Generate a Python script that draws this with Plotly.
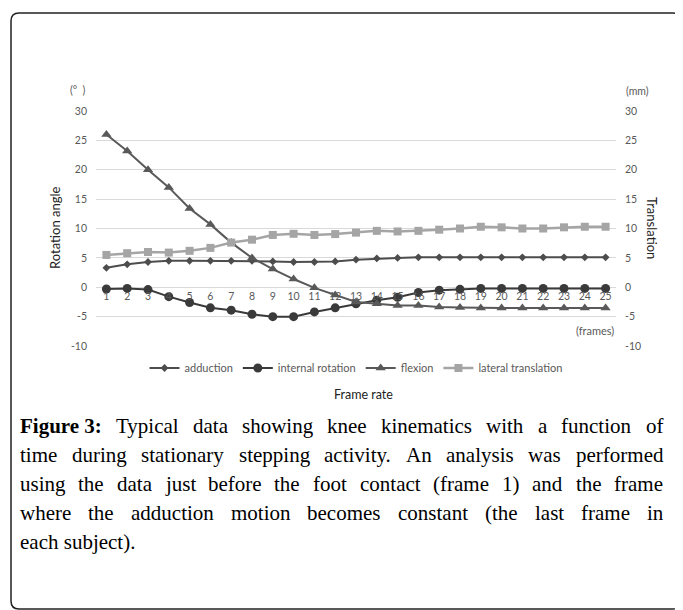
import glob
import plotly.graph_objects as go

# ---------------- data ----------------
frames = list(range(1, 26))
frame_labels = [str(f) for f in frames]

adduction = [3.3, 3.9, 4.3, 4.5, 4.5, 4.5, 4.5, 4.5, 4.4, 4.3, 4.3, 4.4, 4.7,
             4.9, 5.0, 5.1, 5.1, 5.1, 5.1, 5.1, 5.1, 5.1, 5.1, 5.1, 5.1]
internal_rotation = [-0.3, -0.2, -0.4, -1.6, -2.6, -3.5, -3.9, -4.6, -5.0, -5.0, -4.2, -3.5, -2.8,
                     -2.2, -1.7, -0.9, -0.5, -0.35, -0.2, -0.2, -0.2, -0.2, -0.2, -0.2, -0.2]
flexion = [26.0, 23.2, 20.0, 17.0, 13.4, 10.7, 7.6, 5.0, 3.1, 1.4, -0.1, -1.3, -2.5,
           -2.8, -3.1, -3.1, -3.35, -3.45, -3.55, -3.55, -3.55, -3.55, -3.55, -3.55, -3.55]
lateral_translation = [5.5, 5.8, 6.0, 5.9, 6.2, 6.7, 7.6, 8.1, 8.9, 9.1, 8.9, 9.05, 9.3,
                       9.6, 9.5, 9.6, 9.8, 10.0, 10.3, 10.2, 10.0, 10.0, 10.2, 10.3, 10.3]

y_ticks = [-10, -5, 0, 5, 10, 15, 20, 25, 30]
y_tick_labels = ["-10", "-5", "0", "5", "10", "15", "20", "25", "30"]

caption_lines = [
    "Figure 3: Typical data showing knee kinematics with a function of",
    "time during stationary stepping activity. An analysis was performed",
    "using the data just before the foot contact (frame 1) and the frame",
    "where the adduction motion becomes constant (the last frame in",
    "each subject).",
]

# ---------------- geometry (page pixels; page body has an 8px margin) ----------------
OFF = 8
W, H = 683 - OFF, 610 - OFF
PL, PR, PT, PB = 96, 616, 111, 346  # plot area in page pixels


def px(x):
    return (x - PL) / (PR - PL)


def py(y):
    return (PB - y) / (PB - PT)


FONT = "Lato"
GREY = "#595959"

fig = go.Figure()
fig.add_trace(go.Scatter(x=frames, y=adduction, name="adduction", mode="lines+markers",
                         line=dict(color="#4d4d4d", width=2),
                         marker=dict(symbol="diamond", size=6, color="#4d4d4d")))
fig.add_trace(go.Scatter(x=frames, y=internal_rotation, name="internal rotation", mode="lines+markers",
                         line=dict(color="#3a3a3a", width=2),
                         marker=dict(symbol="circle", size=9, color="#3a3a3a")))
fig.add_trace(go.Scatter(x=frames, y=flexion, name="flexion", mode="lines+markers",
                         line=dict(color="#595959", width=2),
                         marker=dict(symbol="triangle-up", size=9, color="#595959")))
fig.add_trace(go.Scatter(x=frames, y=lateral_translation, name="lateral translation", mode="lines+markers",
                         line=dict(color="#a5a5a5", width=2.5),
                         marker=dict(symbol="square", size=8, color="#a5a5a5"),
                         yaxis="y2"))

axis_font = dict(family=FONT, size=10.5, color=GREY)
fig.update_layout(
    width=W, height=H,
    margin=dict(l=PL - OFF, r=W - (PR - OFF), t=PT - OFF, b=H - (PB - OFF), pad=0),
    paper_bgcolor="white", plot_bgcolor="white",
    showlegend=True,
    legend=dict(orientation="h", x=0.5, xanchor="center", y=py(368), yanchor="middle",
                font=dict(family=FONT, size=11, color=GREY), itemwidth=30,
                bgcolor="rgba(0,0,0,0)", tracegroupgap=0),
    xaxis=dict(range=[0.5, 25.5], tickvals=frames, ticktext=frame_labels,
               showgrid=False, zeroline=False, showline=False, ticks="",
               anchor="free", position=py(288),
               tickfont=axis_font, ticklabelstandoff=0),
    yaxis=dict(range=[-10, 30], tickvals=y_ticks, ticktext=y_tick_labels,
               showgrid=True, gridcolor="#d9d9d9", gridwidth=1,
               zeroline=False, showline=False, ticks="", tickfont=axis_font, ticklabelstandoff=8),
    yaxis2=dict(range=[-10, 30], tickvals=y_ticks, ticktext=y_tick_labels,
                overlaying="y", side="right",
                showgrid=False, zeroline=False, showline=False, ticks="",
                tickfont=axis_font, ticklabelstandoff=8),
)

ann = []


def add_text(text, x, y, size, color="black", family=FONT, xanchor="center", yanchor="middle",
             angle=0):
    ann.append(dict(text=text, x=px(x), y=py(y), xref="paper", yref="paper", showarrow=False,
                    xanchor=xanchor, yanchor=yanchor, textangle=angle, borderpad=0, borderwidth=0,
                    font=dict(family=family, size=size, color=color)))


add_text("(°  )", 78, 90, 10.5, GREY)
add_text("(mm)", 637, 91, 10.5, GREY)
add_text("Rotation angle", 55, 228, 13, "#222222", angle=-90)
add_text("Translation", 652, 228, 13, "#222222", angle=90)
add_text("(frames)", 595, 330, 11, GREY)
add_text("Frame rate", 363, 394, 12.5, "#222222")

# ---------------- caption (justified) ----------------
CAP_SIZE = 21
CAP_X0, CAP_X1 = 20, 663
CAP_Y = [426, 455, 484, 513, 542]
SERIF = "Liberation Serif"


def find_font(name):
    hits = glob.glob("/usr/share/fonts/**/" + name, recursive=True)
    return hits[0] if hits else None


measure = None
try:
    from PIL import ImageFont
    reg = find_font("LiberationSerif-Regular.ttf")
    bold = find_font("LiberationSerif-Bold.ttf")
    if reg and bold:
        f_reg = ImageFont.truetype(reg, CAP_SIZE)
        f_bold = ImageFont.truetype(bold, CAP_SIZE)

        def measure(s, b=False):
            return (f_bold if b else f_reg).getlength(s)
except Exception:
    measure = None

for i, line in enumerate(caption_lines):
    y = CAP_Y[i]
    words = line.split(" ")
    tokens = []
    if i == 0:
        tokens.append(("Figure 3:", True))
        words = words[2:]
    tokens += [(w, False) for w in words]
    justify = i < len(caption_lines) - 1
    if measure is not None and justify:
        widths = [measure(t, b) for t, b in tokens]
        gap = (CAP_X1 - CAP_X0 - sum(widths)) / (len(tokens) - 1)
        x = CAP_X0
        for (t, b), w in zip(tokens, widths):
            txt = "<b>%s</b>" % t if b else t
            add_text(txt, x, y, CAP_SIZE, "black", SERIF, xanchor="left")
            x += w + gap
    else:
        txt = " ".join(("<b>%s</b>" % t) if b else t for t, b in tokens)
        add_text(txt, CAP_X0, y, CAP_SIZE, "black", SERIF, xanchor="left")

fig.update_layout(annotations=ann)

# ---------------- rounded border ----------------
x0, y0, x1, y1, r = 11, 13, 681, 609, 8
rx, ry = r / (PR - PL), r / (PB - PT)
X0, X1, Y0, Y1 = px(x0), px(x1), py(y0), py(y1)
path = (f"M {X0 + rx} {Y0} L {X1 - rx} {Y0} Q {X1} {Y0} {X1} {Y0 - ry} "
        f"L {X1} {Y1 + ry} Q {X1} {Y1} {X1 - rx} {Y1} "
        f"L {X0 + rx} {Y1} Q {X0} {Y1} {X0} {Y1 + ry} "
        f"L {X0} {Y0 - ry} Q {X0} {Y0} {X0 + rx} {Y0} Z")
fig.add_shape(type="path", path=path, xref="paper", yref="paper",
              line=dict(color="#222222", width=1.5), layer="above")

fig.write_html("out.html")
